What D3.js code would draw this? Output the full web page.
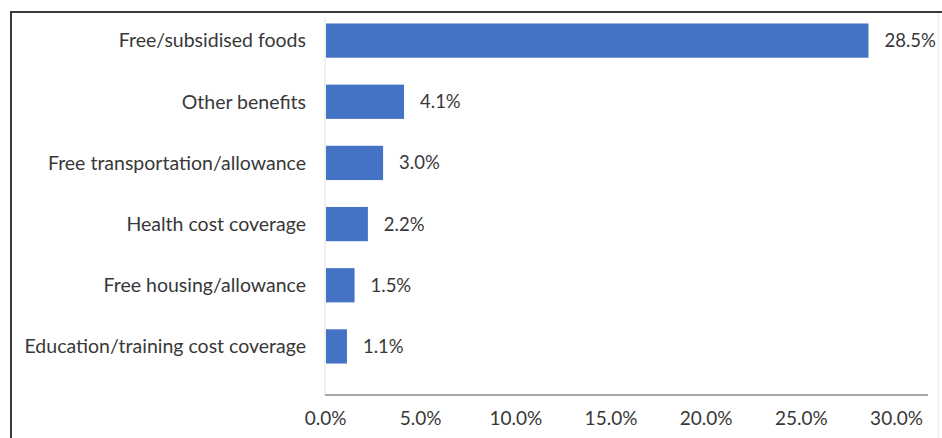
<!DOCTYPE html>
<html>
<head>
<meta charset="utf-8">
<script src="https://cdn.jsdelivr.net/npm/d3@7"></script>
<style>
  html, body { margin: 0; padding: 0; background: #fff; }
  svg { display: block; }
  text { font-family: Lato, "Open Sans", sans-serif; fill: #383838; }
</style>
</head>
<body>
<svg id="chart" width="942" height="438"></svg>
<script>
// Non-cash benefits received, share of respondents (%)
const categories = [
  "Free/subsidised foods",
  "Other benefits",
  "Free transportation/allowance",
  "Health cost coverage",
  "Free housing/allowance",
  "Education/training cost coverage"
];
const values = [28.5, 4.1, 3.0, 2.2, 1.5, 1.1];
const xTicks = [0, 5, 10, 15, 20, 25, 30];

const svg = d3.select("#chart");
const W = 942, H = 438;

// frame: dark top and left edges, faint right edge
svg.append("line").attr("x1", 10).attr("x2", W).attr("y1", 12).attr("y2", 12)
  .attr("stroke", "#3a3a3a").attr("stroke-width", 2);
svg.append("line").attr("x1", 11).attr("x2", 11).attr("y1", 11).attr("y2", H)
  .attr("stroke", "#3a3a3a").attr("stroke-width", 2);
svg.append("line").attr("x1", 938.5).attr("x2", 938.5).attr("y1", 13).attr("y2", H)
  .attr("stroke", "#ececec").attr("stroke-width", 1);

const x = d3.scaleLinear().domain([0, 30]).range([325, 896]);
const y = d3.scaleBand().domain(categories)
  .range([10, 377]).paddingInner(0.44).paddingOuter(0.22);

const axisY = 395;

// category axis line (light)
svg.append("line")
  .attr("x1", x(0)).attr("x2", x(0))
  .attr("y1", 18).attr("y2", axisY)
  .attr("stroke", "#e2e2e2").attr("stroke-width", 1);

// bars
svg.selectAll("rect.bar").data(values).join("rect")
  .attr("class", "bar")
  .attr("x", x(0) + 1)
  .attr("y", (d, i) => y(categories[i]))
  .attr("width", d => x(d) - x(0))
  .attr("height", y.bandwidth())
  .attr("fill", "#4472C4");

// value labels
svg.selectAll("text.val").data(values).join("text")
  .attr("class", "val")
  .attr("x", d => x(d) + 17)
  .attr("y", (d, i) => y(categories[i]) + y.bandwidth() / 2)
  .attr("dy", "0.35em")
  .attr("font-size", 18.5)
  .text(d => d.toFixed(1) + "%");

// category labels
svg.selectAll("text.cat").data(categories).join("text")
  .attr("class", "cat")
  .attr("x", 306)
  .attr("y", d => y(d) + y.bandwidth() / 2)
  .attr("dy", "0.35em")
  .attr("text-anchor", "end")
  .attr("font-size", 19.5)
  .text(d => d);

// value axis
const xAxis = d3.axisBottom(x).tickValues(xTicks)
  .tickFormat(d => d.toFixed(1) + "%").tickSize(0).tickPadding(17);
const gx = svg.append("g").attr("transform", `translate(0,${axisY})`).call(xAxis);
gx.select(".domain").remove();
gx.selectAll("text").attr("font-size", 19).attr("fill", "#383838")
  .style("font-family", "Lato, 'Open Sans', sans-serif");

svg.append("line")
  .attr("x1", x(0)).attr("x2", 928)
  .attr("y1", axisY).attr("y2", axisY)
  .attr("stroke", "#8a8a8a").attr("stroke-width", 1.5);
</script>
</body>
</html>
